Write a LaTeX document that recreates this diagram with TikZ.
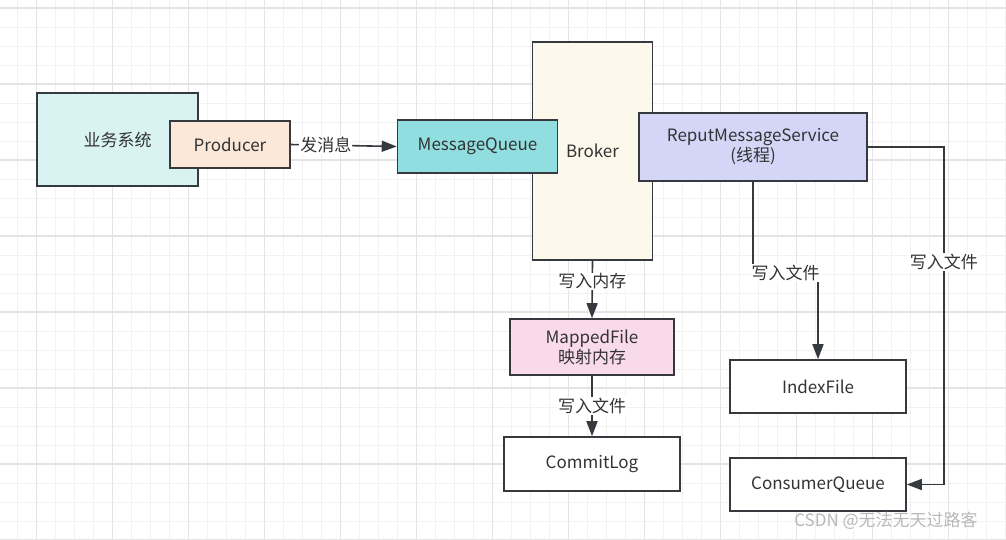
\documentclass[tikz,border=0pt]{standalone}
\usepackage{fontspec}
\setmainfont{Noto Sans CJK SC}
\usetikzlibrary{arrows.meta}

\definecolor{linegray}{HTML}{36393D}
\definecolor{txtgray}{HTML}{333333}
\definecolor{minorgray}{HTML}{F2F2F2}
\definecolor{majorgray}{HTML}{E4E4E4}
\definecolor{sysfill}{HTML}{D9F3F3}
\definecolor{prodfill}{HTML}{FBE8D9}
\definecolor{mqfill}{HTML}{90DEDF}
\definecolor{brokerfill}{HTML}{FCF9EC}
\definecolor{reputfill}{HTML}{D3D6F7}
\definecolor{mappedfill}{HTML}{F8DAEA}

\begin{document}
\begin{tikzpicture}[x=1pt,y=-1pt,
	every node/.style={font=\fontsize{17}{20}\selectfont, text=txtgray},
	box/.style={draw=linegray, line width=1.6pt, align=center, inner sep=0pt},
	flow/.style={draw=linegray, line width=1.6pt, -{Triangle[length=15pt,width=11pt]}},
	lbl/.style={fill=white, inner sep=1pt}]
	\useasboundingbox (0,0) rectangle (1006,539);
	\fill[white] (0,0) rectangle (1006,539);
	% background grid
	\foreach \i in {0,...,53} \draw[minorgray, line width=1pt] ({-1.3+19*\i},0) -- ++(0,539);
	\foreach \i in {0,...,29} \draw[minorgray, line width=1pt] (0,{-11+19*\i}) -- ++(1006,0);
	\foreach \i in {0,...,13} \draw[majorgray, line width=1.2pt] ({-39.3+76*\i},0) -- ++(0,539);
	\foreach \i in {0,...,7} \draw[majorgray, line width=1.2pt] (0,{8+76*\i}) -- ++(1006,0);

	% boxes
	\node[box, fill=sysfill, minimum width=161pt, minimum height=93pt] (system) at (117.5,139.5) {业务系统};
	\node[box, fill=prodfill, minimum width=120pt, minimum height=47pt] (producer) at (230,144.5) {Producer};
	\node[box, fill=brokerfill, minimum width=120pt, minimum height=218pt] (broker) at (592.5,151) {Broker};
	\node[box, fill=mqfill, minimum width=160pt, minimum height=53pt] (mq) at (477.5,146.5) {MessageQueue};
	\node[box, fill=reputfill, minimum width=228pt, minimum height=68pt] (reput) at (753,147) {ReputMessageService\\(线程)};
	\node[box, fill=mappedfill, minimum width=164pt, minimum height=56pt] (mapped) at (592,347) {MappedFile\\映射内存};
	\node[box, fill=white, minimum width=176pt, minimum height=54pt] (commitlog) at (592,464) {CommitLog};
	\node[box, fill=white, minimum width=176pt, minimum height=53pt] (index) at (818,386.5) {IndexFile};
	\node[box, fill=white, minimum width=176pt, minimum height=53pt] (cq) at (818,484.5) {ConsumerQueue};

	% connectors
	\draw[flow] (producer.east) -- node[lbl, pos=0.33] {发消息} (mq.west);
	\draw[flow] (broker.south) -- node[lbl, pos=0.36] {写入内存} (mapped.north);
	\draw[flow] (mapped.south) -- node[lbl] {写入文件} (commitlog.north);
	\draw[flow] (reput.south) -- ++(0,91) -| node[lbl, pos=0.25] {写入文件} (index.north);
	\draw[flow] (reput.east) -- ++(76,0) |- node[lbl, pos=0.17] {写入文件} (cq.east);

	% watermark
	\node[text=gray!55] (mark) at (886,521) {CSDN @无法无天过路客};
\end{tikzpicture}
\end{document}
